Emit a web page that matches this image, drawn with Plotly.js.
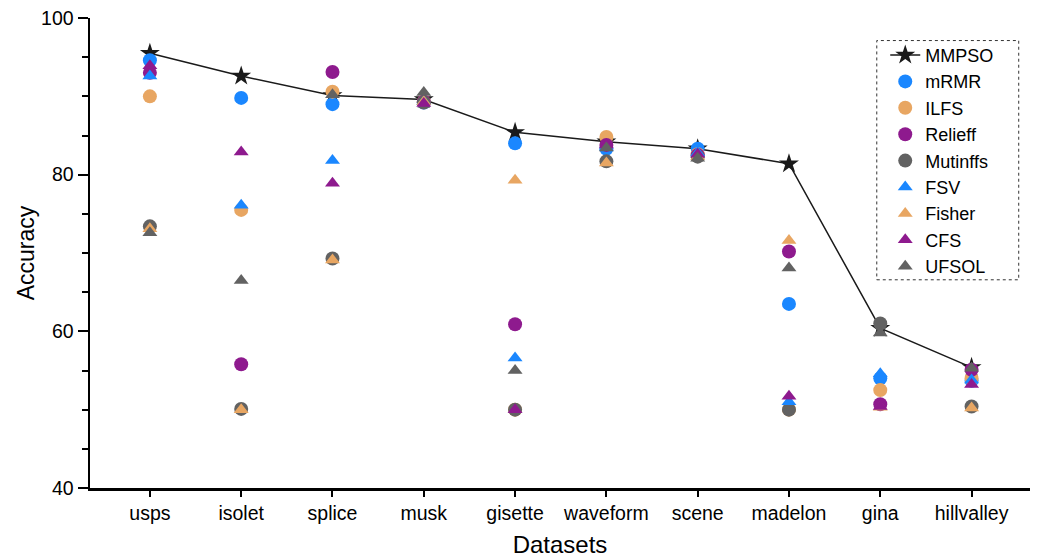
<!DOCTYPE html>
<html>
<head>
<meta charset="utf-8">
<script src="https://cdn.plot.ly/plotly-3.0.1.min.js"></script>
<style>html,body{margin:0;padding:0;background:#fff;}#chart{width:1042px;height:560px;}</style>
</head>
<body>
<div id="chart"></div>
<script>
const datasets = ['usps','isolet','splice','musk','gisette','waveform','scene','madelon','gina','hillvalley'];
const MMPSO    = [95.5, 92.6, 90.1, 89.6, 85.4, 84.2, 83.3, 81.4, 60.4, 55.4];
const mRMR     = [94.6, 89.8, 89.0, 89.2, 84.0, 83.3, 83.3, 63.5, 54.0, 53.7];
const ILFS     = [90.0, 75.5, 90.6, 89.3, 50.0, 84.8, 82.6, 50.0, 52.5, 54.0];
const Relieff  = [93.0, 55.8, 93.1, 89.3, 60.9, 83.8, 82.5, 70.2, 50.7, 55.1];
const Mutinffs = [73.4, 50.1, 69.3, 89.2, 50.0, 81.7, 82.3, 50.0, 61.0, 50.4];
const FSV      = [92.6, 76.1, 81.8, 89.3, 56.6, 83.5, 82.8, 51.0, 54.6, 53.8];
const Fisher   = [73.1, 50.0, 69.1, 89.3, 79.3, 81.5, 82.3, 71.6, 50.3, 50.2];
const CFS      = [93.9, 82.9, 78.9, 89.1, 50.0, 83.8, 82.6, 51.7, 50.4, 53.2];
const UFSOL    = [72.6, 66.5, 90.2, 90.5, 55.0, 83.4, 82.1, 68.1, 59.8, 55.3];

const BLUE = '#1a87ff', ORANGE = '#e8a662', PURPLE = '#8e1a8e', GRAY = '#626262', BLACK = '#1a1a1a';
const FONT = 'Liberation Sans, Arial, Helvetica, sans-serif';

function pts(name, y, color, symbol) {
  return {type:'scatter', mode:'markers', name:name, x:datasets, y:y,
    marker:{color:color, symbol:symbol, size: symbol==='circle'?14:13, line:{width:0}}};
}

const traces = [
  {type:'scatter', mode:'lines+markers', name:'MMPSO', x:datasets, y:MMPSO,
   line:{color:BLACK, width:1.5}, marker:{color:BLACK, symbol:'star', size:15, line:{width:0}}},
  pts('mRMR', mRMR, BLUE, 'circle'),
  pts('ILFS', ILFS, ORANGE, 'circle'),
  pts('Relieff', Relieff, PURPLE, 'circle'),
  pts('Mutinffs', Mutinffs, GRAY, 'circle'),
  pts('FSV', FSV, BLUE, 'triangle-up'),
  pts('Fisher', Fisher, ORANGE, 'triangle-up'),
  pts('CFS', CFS, PURPLE, 'triangle-up'),
  pts('UFSOL', UFSOL, GRAY, 'triangle-up')
];

const layout = {
  width:1042, height:560,
  margin:{l:90, r:12, t:18, b:72},
  paper_bgcolor:'#fff', plot_bgcolor:'#fff',
  font:{family:FONT, color:'#000', size:19},
  showlegend:true,
  legend:{x:0.846, y:0.96, xanchor:'left', yanchor:'top', bgcolor:'rgba(0,0,0,0)',
          borderwidth:0, font:{family:FONT, size:18, color:'#000'}, tracegroupgap:0},
  xaxis:{type:'category', range:[-0.656, 9.64], showgrid:false, zeroline:false,
         showline:true, linecolor:'#000', linewidth:2.5,
         ticks:'outside', ticklen:6, tickwidth:2, tickcolor:'#000',
         tickfont:{family:FONT, size:19.5, color:'#000'},
         title:{text:'Datasets', font:{family:FONT, size:24, color:'#000'}, standoff:14}},
  yaxis:{range:[40,100], tickvals:[40,60,80,100], showgrid:false, zeroline:false,
         showline:true, linecolor:'#000', linewidth:2.5,
         ticks:'outside', ticklen:10, tickwidth:2, tickcolor:'#000',
         minor:{tickvals:[45,50,55,65,70,75,85,90,95], ticks:'outside', ticklen:6, tickwidth:2, tickcolor:'#000', showgrid:false},
         tickfont:{family:FONT, size:19.5, color:'#000'},
         title:{text:'Accuracy', font:{family:FONT, size:23, color:'#000'}, standoff:0}},
  shapes:[{type:'rect', xref:'paper', yref:'paper', x0:0.837, x1:0.988, y0:0.443, y1:0.952,
           line:{color:'#333', width:1, dash:'dot'}, fillcolor:'rgba(0,0,0,0)'}]
};

Plotly.newPlot('chart', traces, layout, {displayModeBar:false, staticPlot:true});
</script>
</body>
</html>
